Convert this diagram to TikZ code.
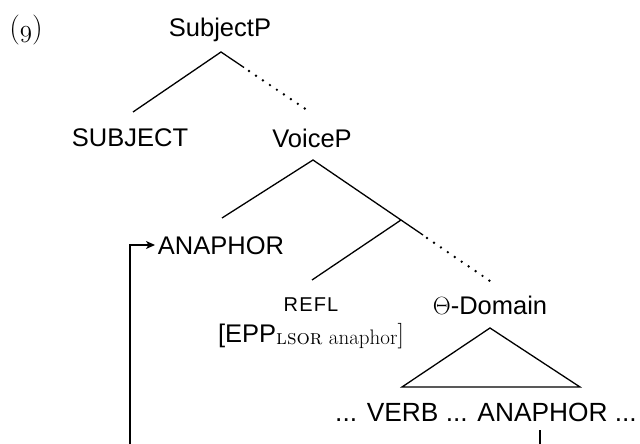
\documentclass[tikz,border=0pt]{standalone}
\usepackage{fontspec}
\setsansfont{Liberation Sans}
\usetikzlibrary{arrows.meta}
\begin{document}
\begin{tikzpicture}[x=1pt,y=-1pt,
  lab/.style={font=\fontsize{25.5}{30}\sffamily, inner sep=0pt},
  branch/.style={line width=1.3pt},
  dotbranch/.style={line width=2.7pt, line cap=round, dash pattern=on 0pt off 8.4pt},
  link/.style={line width=1.3pt}]
\useasboundingbox (0,0) rectangle (640,444);
\node[font=\fontsize{30}{34}\selectfont, inner sep=0pt] (num) at (26,30) {(\ensuremath{\mathnormal{9}})};
\node[lab] (subjP) at (220,30) {SubjectP};
\node[lab] (subj) at (130,138) {SUBJECT};
\node[lab] (voiceP) at (312,138) {VoiceP};
\node[lab] (ana) at (221,246) {ANAPHOR};
\node[font=\fontsize{20}{24}\sffamily\addfontfeature{LetterSpace=6}, inner sep=0pt] (refl) at (311,305) {REFL};
\node[lab] (epp) at (311,336) {[EPP\raisebox{-0.2ex}{\fontsize{21}{24}\rmfamily\textsc{lsor} anaphor}\rmfamily]};
\node[lab] (theta) at (490,305) {$\Theta$-Domain};
\node[font=\fontsize{26.3}{30}\sffamily, inner sep=0pt] (bottom) at (486,412) {... VERB ... ANAPHOR ...};
% branch points
\coordinate (a1) at (221,52);
\coordinate (l1) at (133,112);
\coordinate (m1) at (244,67.5);
\coordinate (d1) at (249,71);
\coordinate (r1) at (310,112);
\coordinate (a2) at (313,160);
\coordinate (l2) at (222,218);
\coordinate (b2) at (401,220);
\coordinate (m2) at (423,235);
\coordinate (d2) at (427,238);
\coordinate (l3) at (312,280);
\coordinate (r3) at (490,281);
\coordinate (t1) at (490,328);
\coordinate (t2) at (402,387);
\coordinate (t3) at (580,387);
\coordinate (ar) at (155,245);
\coordinate (ac) at (130,245);
\coordinate (ab) at (130,444);
\coordinate (vt) at (540,430);
\coordinate (vb) at (540,444);
\draw[branch] (l1) -- (a1) -- (m1);
\draw[dotbranch] (d1) -- (r1);
\draw[branch] (l2) -- (a2) -- (m2);
\draw[branch] (b2) -- (l3);
\draw[dotbranch] (d2) -- (r3);
\draw[branch] (t1) -- (t2) -- (t3) -- cycle;
\draw[link, -{Stealth[length=9pt,width=8pt,inset=2.5pt]}] (ab) -- (ac) -- (ar);
\draw[link] (vt) -- (vb);
\end{tikzpicture}
\end{document}
